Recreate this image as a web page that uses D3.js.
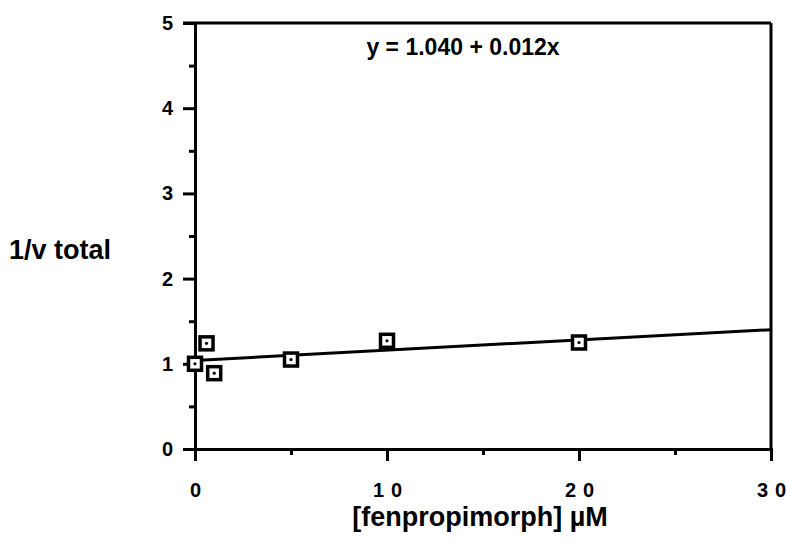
<!DOCTYPE html>
<html>
<head>
<meta charset="utf-8">
<script src="https://cdn.jsdelivr.net/npm/d3@7"></script>
<style>
  body { margin: 0; background: #fff; }
  text { font-family: "Liberation Sans", Arial, sans-serif; font-weight: bold; fill: #000; }
</style>
</head>
<body>
<div id="chart"></div>
<script>
// data
const conc = [0, 0.6, 1, 5, 10, 20];
const invV = [1.0, 1.24, 0.89, 1.05, 1.27, 1.25];
const fitIntercept = 1.040;
const fitSlope = 0.012;
const xTicks = [0, 10, 20, 30];
const xMinor = [5, 15, 25];
const yTicks = [0, 1, 2, 3, 4, 5];
const yMinor = [0.5, 1.5, 2.5, 3.5, 4.5];

const W = 786, H = 542;
const pL = 195, pR = 771, pT = 23, pB = 449;

const svg = d3.select("#chart").append("svg")
  .attr("width", W).attr("height", H);

const x = d3.scaleLinear().domain([0, 30]).range([pL, pR]);
const y = d3.scaleLinear().domain([0, 5]).range([pB, pT]);

// box (top and right)
svg.append("line").attr("x1", pL - 12).attr("x2", pR).attr("y1", pT).attr("y2", pT)
  .attr("stroke", "#000").attr("stroke-width", 3);
svg.append("line").attr("x1", pR).attr("x2", pR).attr("y1", pT).attr("y2", pB)
  .attr("stroke", "#000").attr("stroke-width", 3);

// y axis
const yAx = svg.append("g").attr("transform", "translate(" + pL + ",0)")
  .call(d3.axisLeft(y).tickValues(yTicks).tickSize(12).tickPadding(10).tickFormat(d3.format("d")));
const yMin = svg.append("g").attr("transform", "translate(" + pL + ",0)")
  .call(d3.axisLeft(y).tickValues(yMinor).tickSize(6).tickFormat(""));

// x axis
const xAx = svg.append("g").attr("transform", "translate(0," + pB + ")")
  .call(d3.axisBottom(x).tickValues(xTicks).tickSize(12).tickPadding(22).tickFormat(d3.format("d")));
const xMin = svg.append("g").attr("transform", "translate(0," + pB + ")")
  .call(d3.axisBottom(x).tickValues(xMinor).tickSize(6).tickFormat(""));

[yAx, yMin, xAx, xMin].forEach(g => {
  g.select(".domain").attr("stroke", "#000").attr("stroke-width", 3);
  g.selectAll(".tick line").attr("stroke", "#000").attr("stroke-width", 3);
});
yAx.selectAll("text").style("font-size", "20px");
// spaced digits, no trailing space after the last one
xAx.selectAll(".tick text").style("font-size", "20px").each(function (d) {
  const s = String(d);
  const t = d3.select(this).text("");
  if (s.length > 1) t.append("tspan").style("letter-spacing", "7px").text(s.slice(0, -1));
  t.append("tspan").text(s.slice(-1));
});

// fitted line
svg.append("line")
  .attr("x1", x(0)).attr("y1", y(fitIntercept))
  .attr("x2", x(30)).attr("y2", y(fitIntercept + fitSlope * 30))
  .attr("stroke", "#000").attr("stroke-width", 3);

// points
const pts = svg.append("g").selectAll("g").data(conc).enter().append("g")
  .attr("transform", (d, i) => "translate(" + x(d) + "," + y(invV[i]) + ")");
pts.append("rect").attr("x", -6.5).attr("y", -6.5).attr("width", 13).attr("height", 13)
  .attr("fill", "#fff").attr("stroke", "#000").attr("stroke-width", 3.5);
pts.append("circle").attr("r", 1.6).attr("fill", "#000");

// equation
svg.append("text").attr("x", 463).attr("y", 55).attr("text-anchor", "middle")
  .style("font-size", "23px").text("y = 1.040 + 0.012x");

// axis titles
svg.append("text").attr("x", 9).attr("y", 259)
  .style("font-size", "27px").text("1/v total");
svg.append("text").attr("x", 480).attr("y", 526).attr("text-anchor", "middle")
  .style("font-size", "27px").text("[fenpropimorph] \u00B5M");
</script>
</body>
</html>
